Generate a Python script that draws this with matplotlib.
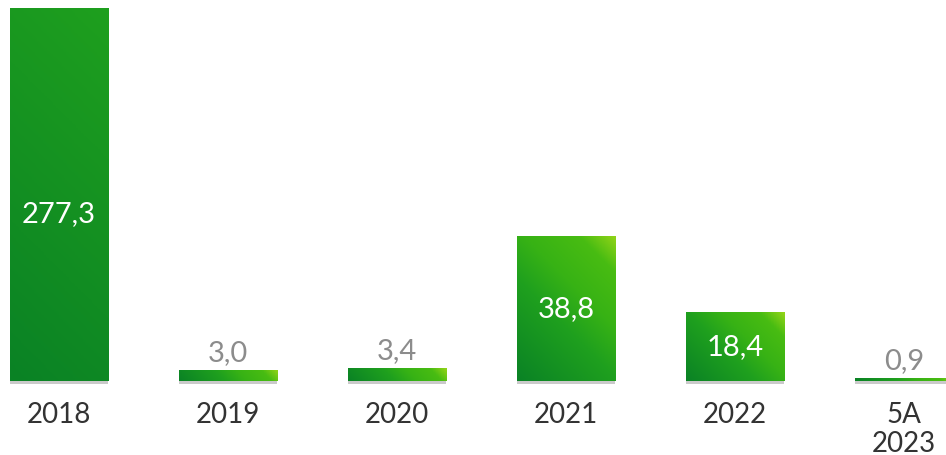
import numpy as np
import matplotlib
matplotlib.use("Agg")
import matplotlib.pyplot as plt
import matplotlib.patheffects as pe
from matplotlib.patches import Rectangle
from matplotlib.colors import LinearSegmentedColormap

# data
years = ["2018", "2019", "2020", "2021", "2022", "5A\n2023"]
values = [277.3, 3.0, 3.4, 38.8, 18.4, 0.9]
value_labels = ["277,3", "3,0", "3,4", "38,8", "18,4", "0,9"]

plt.rcParams["font.family"] = ["Lato", "DejaVu Sans"]

green = LinearSegmentedColormap.from_list(
    "grn", [(0.0, "#0a8225"), (0.42, "#1fa01e"), (0.62, "#37b215"),
            (0.85, "#48bc12"), (1.0, "#92d418")])

fig = plt.figure(figsize=(9.46, 4.56), dpi=100)
W, H = 946, 456
top_px, bot_px = 9, 390
ax = fig.add_axes([0, 1 - bot_px / H, 1, (bot_px - top_px) / H])

ymax = 99.5
ax.set_ylim(-2.13, ymax)
ax.set_xlim(-0.349, 5.249)

# pixel scale of the axes, so the gradient runs corner to corner in screen space
px_per_x = W / (5.249 + 0.349)
px_per_y = (bot_px - top_px) / (ymax + 2.13)

x = np.arange(len(values))
bars = ax.bar(x, values, width=0.58, color="#1e9e1e", zorder=1)

for b in bars:
    x0, w, h = b.get_x(), b.get_width(), b.get_height()
    vis = min(h, ymax)
    wpx, hpx = w * px_per_x, h * px_per_y
    clip = Rectangle((x0, 0), w, vis, transform=ax.transData)
    b.set_path_effects([pe.SimplePatchShadow(offset=(0, -2), shadow_rgbFace="#8a8a8a", alpha=0.45),
                        pe.Normal()])
    u, v = np.meshgrid(np.linspace(0, 1, 64), np.linspace(0, vis / h, 256))
    grad = (u * wpx + v * hpx) / (wpx + hpx)
    im = ax.imshow(grad, cmap=green, origin="lower", aspect="auto",
                   extent=(x0, x0 + w, 0, vis), zorder=2, vmin=0, vmax=1)
    im.set_clip_path(clip)

# value labels
for xi, val, lab in zip(x, values, value_labels):
    if val > ymax:
        ax.text(xi, ymax * 0.45, lab, ha="center", va="center", color="white",
                fontsize=21, zorder=3)
    elif val > 10:
        ax.text(xi, val / 2, lab, ha="center", va="center", color="white",
                fontsize=21, zorder=3)
    else:
        ax.annotate(lab, (xi, val), xytext=(0, 13), textcoords="offset points",
                    ha="center", va="center", color="#8c8c8c", fontsize=21, zorder=3)

ax.set_xticks(x)
ax.set_xticklabels(years, fontsize=20, color="#333333", linespacing=1.12, va="top")
ax.tick_params(axis="x", length=0, pad=9)
ax.set_yticks([])
for s in ax.spines.values():
    s.set_visible(False)

fig.savefig("out.png", dpi=100)
